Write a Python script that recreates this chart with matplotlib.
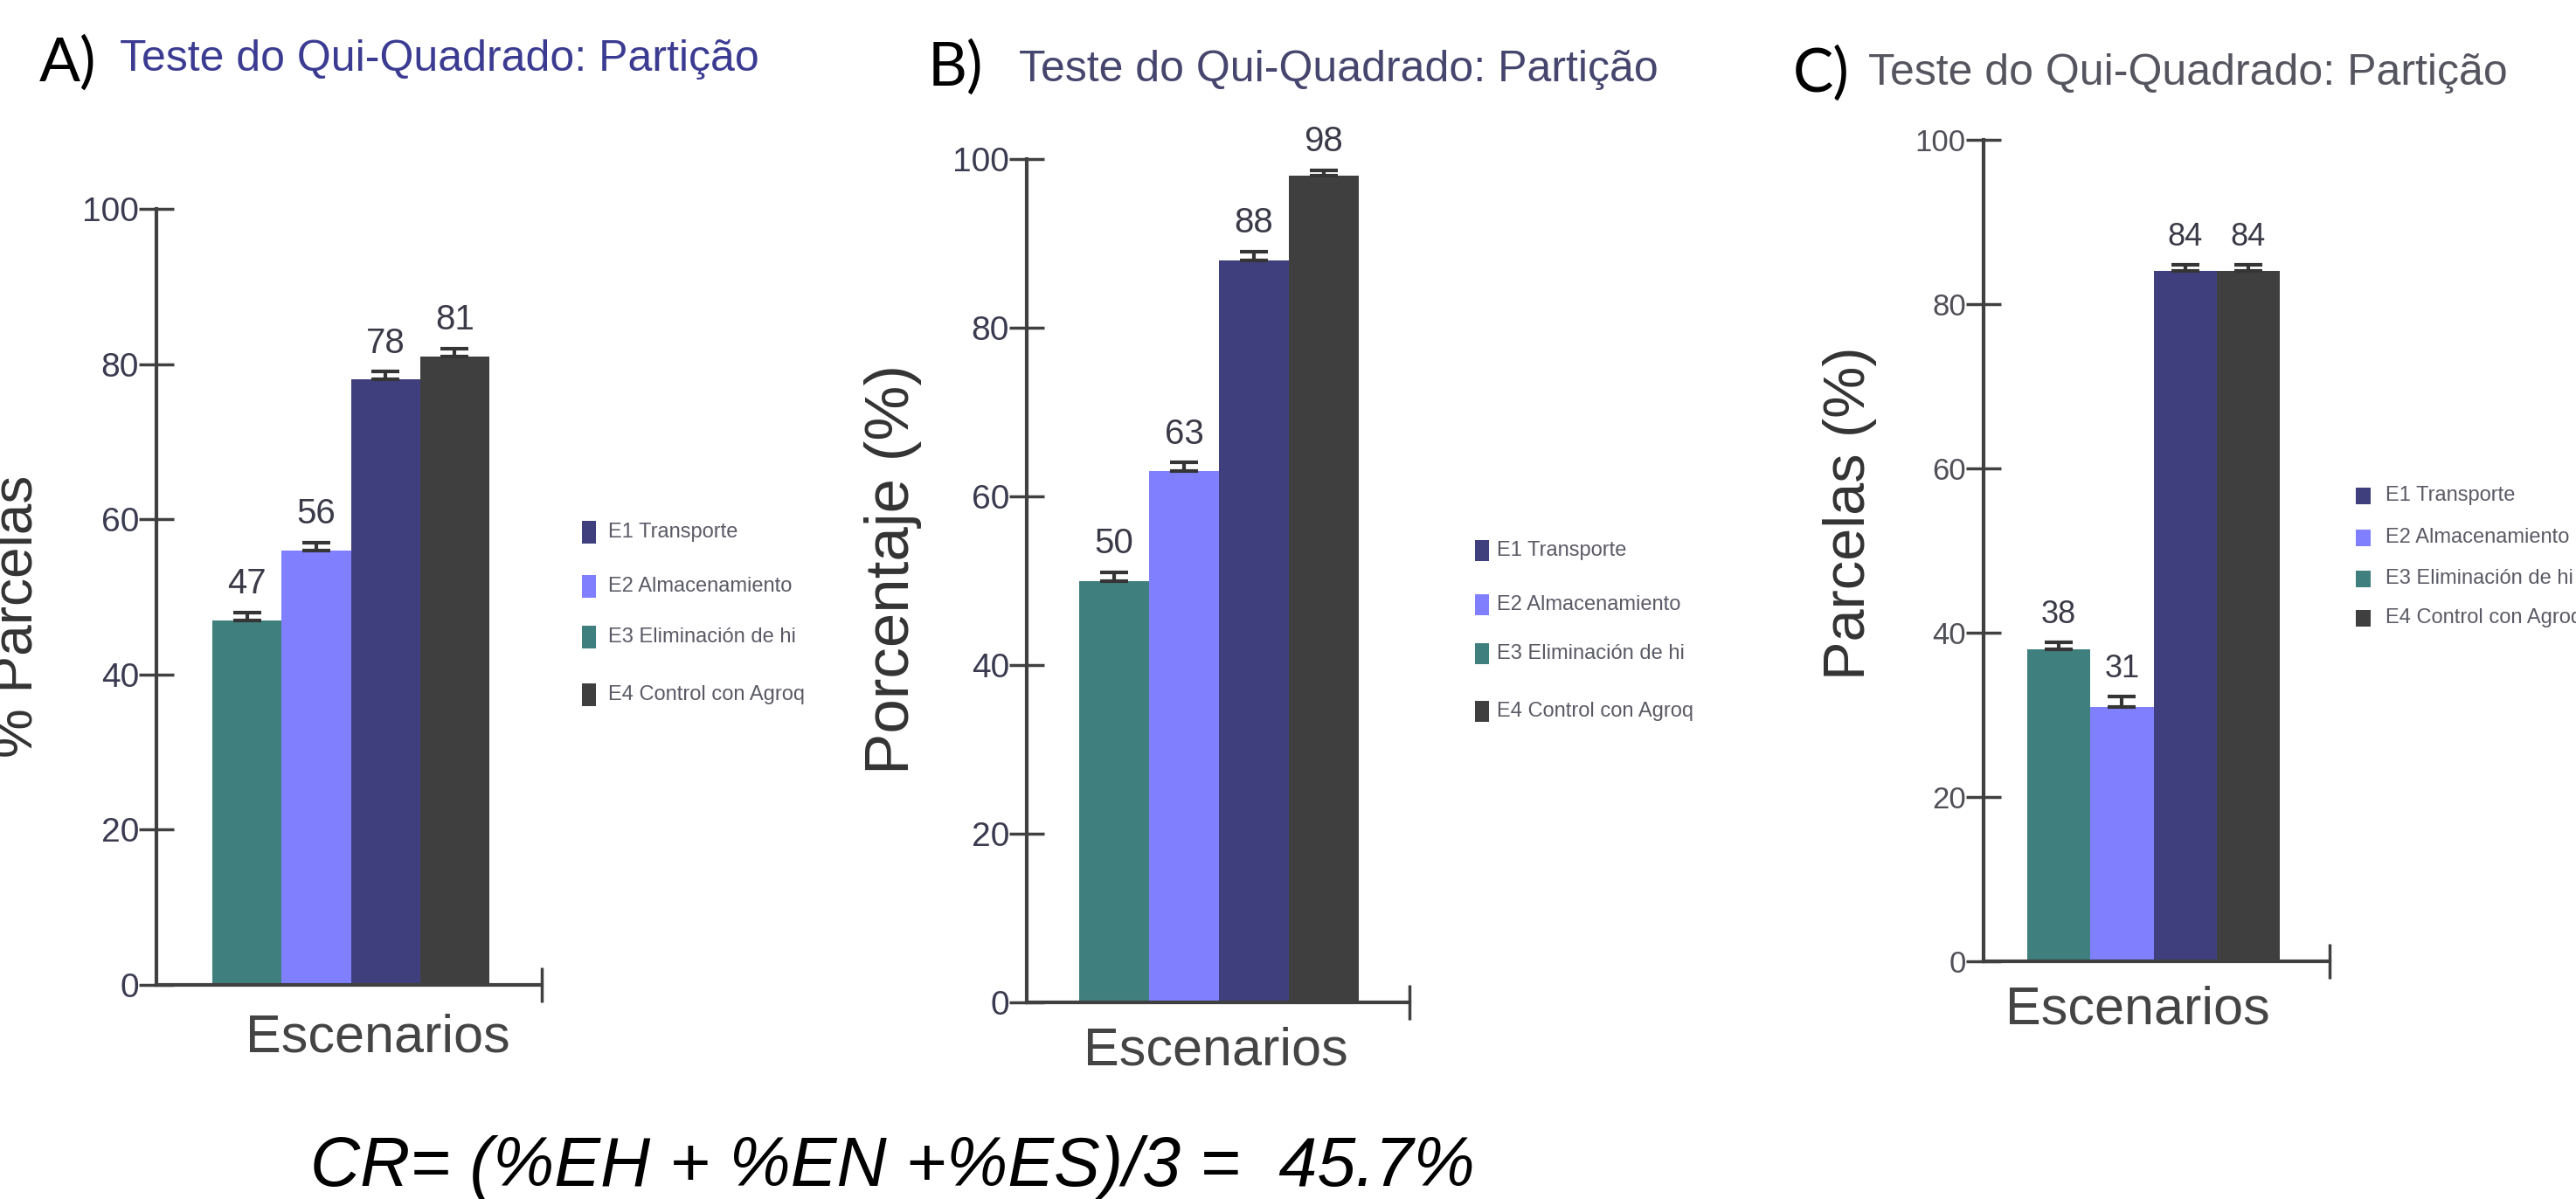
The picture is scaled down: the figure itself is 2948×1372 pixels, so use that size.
import matplotlib
matplotlib.use("Agg")
import matplotlib.pyplot as plt
from matplotlib.patches import Rectangle

# ---------------- data ----------------
bar_order = ["E3 Eliminación de hi", "E2 Almacenamiento", "E1 Transporte", "E4 Control con Agroq"]
legend_order = ["E1 Transporte", "E2 Almacenamiento", "E3 Eliminación de hi", "E4 Control con Agroq"]
values_A = [47, 56, 78, 81]
values_B = [50, 63, 88, 98]
values_C = [38, 31, 84, 84]
err_A = [1.0, 1.0, 1.0, 1.0]
err_B = [1.0, 1.0, 1.0, 0.7]
err_C = [0.8, 1.2, 0.8, 0.8]
yticks = [0, 20, 40, 60, 80, 100]
title_text = "Teste do Qui-Quadrado: Partição"
panel_letters = ["A)", "B)", "C)"]
ylabels = ["% Parcelas", "Porcentaje (%)", "Parcelas (%)"]
xlabel_text = "Escenarios"
formula_text = "CR= (%EH + %EN +%ES)/3 =  45.7%"

colors = {
    "E1 Transporte": "#3f3f7e",
    "E2 Almacenamiento": "#8080ff",
    "E3 Eliminación de hi": "#3f7f7e",
    "E4 Control con Agroq": "#3f3f3f",
}

W, H = 2948, 1372
fig = plt.figure(figsize=(W / 100, H / 100), dpi=100)
fig.patch.set_facecolor("white")
plt.rcParams["font.family"] = ["Liberation Sans", "DejaVu Sans"]


def fx(x):
    return x / W


def fy(y):
    return 1 - y / H


def PT(px):
    return px * 72 / 100


panels = [
    dict(vals=values_A, err=err_A, axis_x=179, x_end=620, y100=239, y0=1127,
         bar_l=243, bar_r=560, tick_fs=28, val_fs=29, tick_col="#3a3a50",
         title_x=137, title_y=81, title_col="#3b3b92",
         letter_x=45, letter_y=93,
         ylab=(37, 705, 46), xlab=(432, 1188),
         leg_x=666, leg_ys=[609, 671, 729, 795], leg_sq=(16, 26), leg_tx=696),
    dict(vals=values_B, err=err_B, axis_x=1175, x_end=1613, y100=182, y0=1147,
         bar_l=1235, bar_r=1555, tick_fs=28, val_fs=29, tick_col="#3a3a50",
         title_x=1166, title_y=93, title_col="#45456e",
         letter_x=1062, letter_y=98,
         ylab=(1040, 651, 51), xlab=(1391, 1203),
         leg_x=1688, leg_ys=[630, 692, 748, 814], leg_sq=(16, 24), leg_tx=1713),
    dict(vals=values_C, err=err_C, axis_x=2270, x_end=2666, y100=160, y0=1100,
         bar_l=2320, bar_r=2609, tick_fs=25, val_fs=26, tick_col="#505058",
         title_x=2138, title_y=97, title_col="#555560",
         letter_x=2052, letter_y=105,
         ylab=(2134, 587, 48), xlab=(2446, 1156),
         leg_x=2696, leg_ys=[567, 615, 662, 707], leg_sq=(17, 19), leg_tx=2730),
]

for i, p in enumerate(panels):
    ax = fig.add_axes([fx(p["axis_x"]), fy(p["y0"]),
                       (p["x_end"] - p["axis_x"]) / W, (p["y0"] - p["y100"]) / H])
    bw = (p["bar_r"] - p["bar_l"]) / 4.0
    xl = -0.5 - (p["bar_l"] - p["axis_x"]) / bw
    xr = 3.5 + (p["x_end"] - p["bar_r"]) / bw
    ax.set_xlim(xl, xr)
    ax.set_ylim(0, 100)
    xs = list(range(len(bar_order)))
    ax.bar(xs, p["vals"], width=1.0, color=[colors[c] for c in bar_order],
           edgecolor="none", zorder=2)
    ax.errorbar(xs, p["vals"], yerr=[[0] * 4, p["err"]], fmt="none",
                ecolor="#353535", elinewidth=3, capsize=PT(16), capthick=3, zorder=3)
    for x, v, e in zip(xs, p["vals"], p["err"]):
        ax.annotate(str(v), (x, v + e), xytext=(0, 10), textcoords="offset points",
                    ha="center", va="bottom", fontsize=p["val_fs"], color="#3a3a48")
    for s in ["top", "right"]:
        ax.spines[s].set_visible(False)
    for s in ["left", "bottom"]:
        ax.spines[s].set_linewidth(3)
        ax.spines[s].set_color("#404040")
    ax.set_yticks(yticks)
    ax.set_yticklabels([str(t) for t in yticks])
    ax.tick_params(axis="y", direction="inout", length=PT(40), width=2.5,
                   color="#404040", labelsize=p["tick_fs"], labelcolor=p["tick_col"], pad=0)
    ax.set_xticks([xr])
    ax.set_xticklabels([""])
    ax.tick_params(axis="x", direction="inout", length=PT(40), width=2.5, color="#404040")
    ax.patch.set_alpha(0)

    # title & letter
    fig.text(fx(p["title_x"]), fy(p["title_y"]), title_text, fontsize=36,
             color=p["title_col"], ha="left", va="baseline")
    fig.text(fx(p["letter_x"]), fy(p["letter_y"]), panel_letters[i], fontsize=50,
             color="black", ha="left", va="baseline", family=["Lato", "DejaVu Sans"])
    # y label
    yx, yy, yfs = p["ylab"]
    fig.text(fx(yx), fy(yy), ylabels[i], fontsize=yfs, color="#333333", rotation=90,
             rotation_mode="anchor", ha="center", va="baseline")
    # x label
    fig.text(fx(p["xlab"][0]), fy(p["xlab"][1]), xlabel_text, fontsize=44,
             color="#444444", ha="center", va="center")
    # legend
    sw, sh = p["leg_sq"]
    for name, ly in zip(legend_order, p["leg_ys"]):
        fig.patches.append(Rectangle((fx(p["leg_x"]), fy(ly + sh / 2)), sw / W, sh / H,
                                     transform=fig.transFigure, facecolor=colors[name],
                                     edgecolor="none"))
        fig.text(fx(p["leg_tx"]), fy(ly), name, fontsize=17, color="#5a5a66",
                 ha="left", va="center")

fig.text(fx(355), fy(1357), formula_text, fontsize=57, style="italic", color="black",
         ha="left", va="baseline")

fig.savefig("out.png", dpi=100)
